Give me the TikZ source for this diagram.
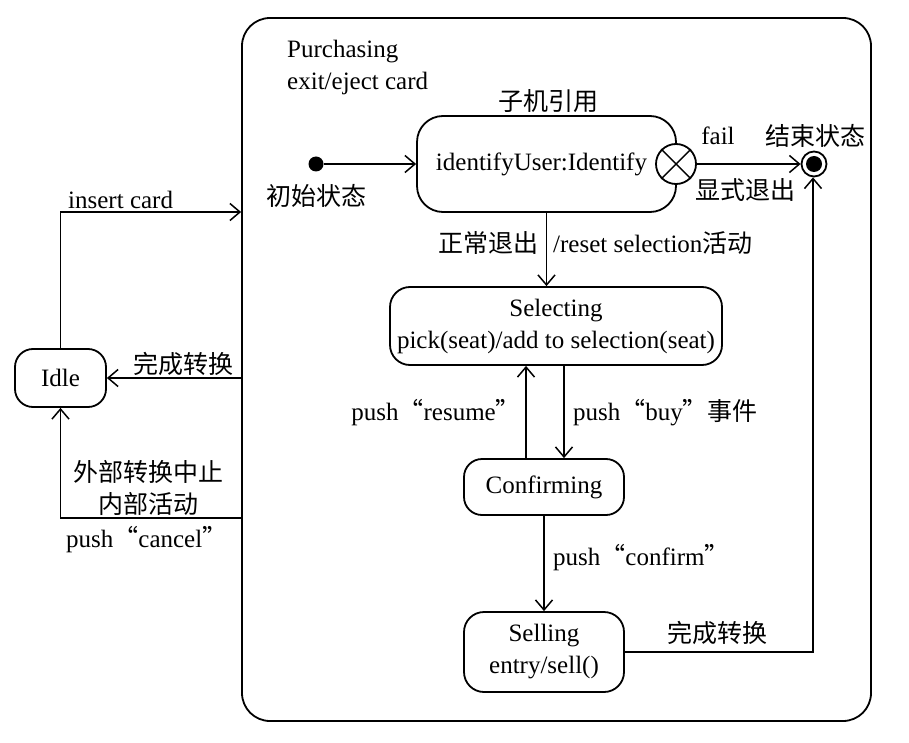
\documentclass[tikz,border=0pt]{standalone}
\usepackage{fontspec}
\setmainfont{Liberation Serif}
\newfontfamily\cjk{Noto Sans CJK SC}
\newcommand{\zh}[1]{{\cjk #1}}
\usetikzlibrary{arrows.meta,calc}
\begin{document}
\begin{tikzpicture}[x=1pt,y=-1pt,
  font=\fontsize{25}{32}\selectfont,
  stbox/.style={draw,line width=1.8pt,rounded corners=#1,inner sep=0pt,align=center},
  arr/.style={line width=1.2pt,-{Straight Barb[length=10pt,width=17pt,line width=1.5pt]}},
  ln/.style={line width=1.2pt},
  lbl/.style={inner sep=0pt}]
\useasboundingbox (0,0) rectangle (909,743);
% composite state
\node[stbox=28pt,minimum width=629pt,minimum height=703pt] (purch) at (556.5,369.5) {};
\node[lbl,anchor=west,align=left] (ptxt) at (287,67) {Purchasing\\exit/eject card};
% states
\node[stbox=18pt,minimum width=91pt,minimum height=58pt] (idle) at (60.5,378) {Idle};
\node[stbox=26pt,minimum width=259pt,minimum height=96pt] (sub) at (546.5,164) {identifyUser:Identify\rule{10pt}{0pt}};
\node[lbl] (subl) at (548,101) {\zh{子机引用}};
\node[stbox=20pt,minimum width=332pt,minimum height=78pt] (sel) at (556,326) {Selecting\\pick(seat)/add to selection(seat)};
\node[stbox=18pt,minimum width=160pt,minimum height=56pt] (conf) at (544,487) {Confirming};
\node[stbox=20pt,minimum width=160pt,minimum height=80pt] (sell) at (544,652) {Selling\\entry/sell()};
% pseudo states
\node[circle,fill=black,minimum size=15pt,inner sep=0pt] (init) at (316,164) {};
\node[circle,draw,fill=white,line width=1.8pt,minimum size=40pt,inner sep=0pt] (xx) at (676,164) {};
\draw[line width=1.4pt] (xx.north east) -- (xx.south west) (xx.north west) -- (xx.south east);
\node[circle,draw,line width=1.8pt,minimum size=25pt,inner sep=0pt] (fin) at (814,164) {};
\node[circle,fill=black,minimum size=16pt,inner sep=0pt] at (fin) {};
% transitions
\coordinate (pin) at (purch.west |- 0,212);
\coordinate (pcancel) at (purch.west |- 0,518);
\draw[arr] (idle.north) |- (pin);
\draw[arr] (purch.west |- idle.east) -- (idle.east);
\draw[arr] (pcancel) -| (idle.south);
\draw[arr] (init) -- (sub.west |- init);
\draw[arr] (xx.east) -- (fin.west);
\draw[arr] (sub.south) -- (sub.south |- sel.north);
\draw[arr] ([xshift=-18pt]conf.north) -- ([xshift=-18pt]conf.north |- sel.south);
\draw[arr] ([xshift=20pt]conf.north |- sel.south) -- ([xshift=20pt]conf.north);
\draw[arr] (conf.south) -- (sell.north);
\draw[arr] (sell.east) -| ([xshift=-1pt]fin.south);
% labels
\node[lbl,anchor=west] at (68,200) {insert card};
\node[lbl] at (183,364) {\zh{完成转换}};
\node[lbl,align=center] at (148,488) {\zh{外部转换中止}\\\zh{内部活动}};
\node[lbl,anchor=west] at (66,540) {push\zh{“}cancel\zh{”}};
\node[lbl] at (316,196) {\zh{初始状态}};
\node[lbl] at (718,136) {fail};
\node[lbl] at (815,136) {\zh{结束状态}};
\node[lbl] at (745,190) {\zh{显式退出}};
\node[lbl,anchor=east] at (539,243) {\zh{正常退出}};
\node[lbl,anchor=west] at (553,243) {/reset selection\zh{活动}};
\node[lbl,anchor=east] at (521,413) {push\zh{“}resume\zh{”}};
\node[lbl,anchor=west] at (573,413) {push\zh{“}buy\zh{”事件}};
\node[lbl,anchor=west] at (553,558) {push\zh{“}confirm\zh{”}};
\node[lbl] at (717,633) {\zh{完成转换}};
\end{tikzpicture}
\end{document}
